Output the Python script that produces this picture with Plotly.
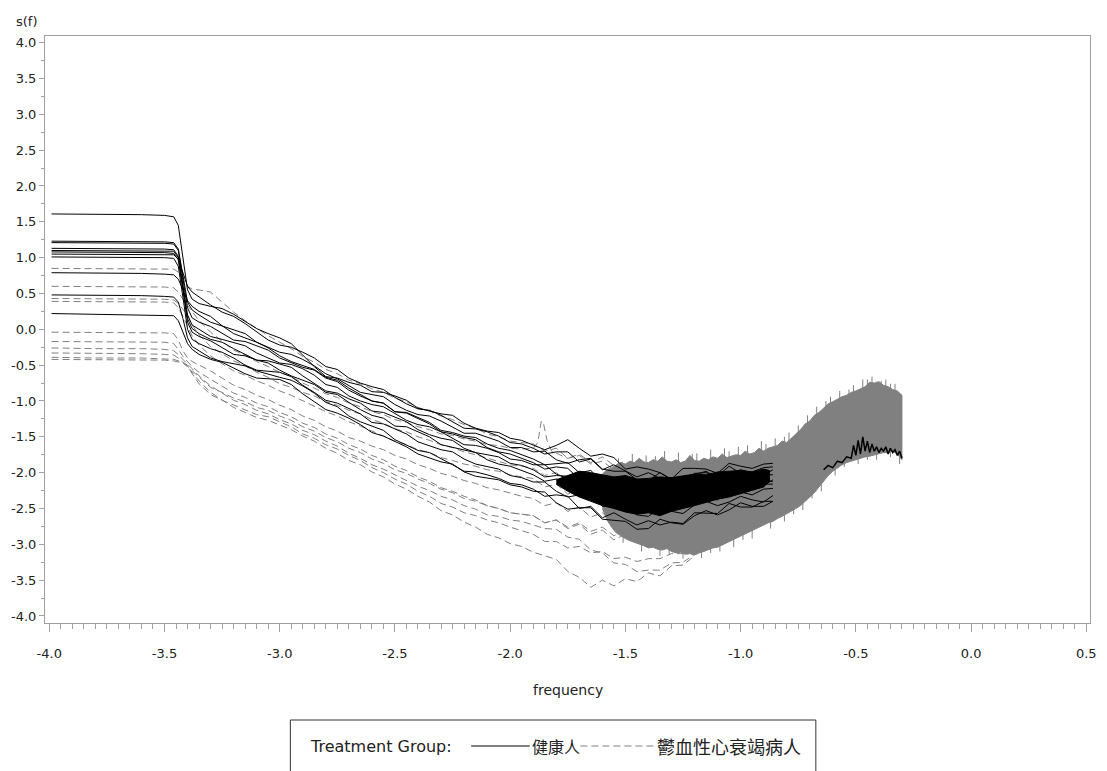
import plotly.graph_objects as go

# ---------------- data ----------------
X_GRID = [-3.99, -3.80, -3.60, -3.50, -3.46, -3.44, -3.42, -3.40, -3.38,
          -3.35, -3.30, -3.25, -3.20, -3.15, -3.10, -3.05, -3.00, -2.95, -2.90,
          -2.85, -2.80, -2.75, -2.70, -2.65, -2.60, -2.55, -2.50, -2.45, -2.40,
          -2.35, -2.30, -2.25, -2.20, -2.15, -2.10, -2.05, -2.00, -1.95, -1.90,
          -1.85, -1.80, -1.75, -1.70, -1.65, -1.60, -1.55, -1.50,
          -1.45, -1.40, -1.35, -1.30, -1.25, -1.20, -1.15, -1.10, -1.05, -1.00,
          -0.95, -0.90, -0.86]

# healthy group (solid black)
H1 = [1.61, 1.61, 1.60, 1.59, 1.57, 1.45, 1.00, 0.55, 0.42,
      0.36, 0.32, 0.29, 0.21, 0.11, 0.01, -0.06, -0.12, -0.20, -0.36, -0.52, -0.66, -0.68, -0.74, -0.78,
      -0.87, -0.88, -0.93, -0.99, -1.10, -1.14, -1.18, -1.20, -1.31, -1.38, -1.42, -1.44, -1.52, -1.55,
      -1.61, -1.68, -1.62, -1.54, -1.66, -1.77, -1.74, -1.79, -1.95, -1.92, -1.95, -2.00, -2.09, -1.94,
      -1.94, -1.95, -2.01, -1.87, -1.91, -1.94, -1.88, -1.87]
H2 = [1.23, 1.23, 1.22, 1.22, 1.21, 1.12, 0.75, 0.38, 0.27,
      0.20, 0.10, 0.05, -0.01, -0.06, -0.18, -0.25, -0.32, -0.35, -0.42, -0.51, -0.62, -0.69, -0.79, -0.88,
      -0.91, -0.94, -1.05, -1.13, -1.19, -1.21, -1.28, -1.36, -1.45, -1.45, -1.50, -1.56, -1.65, -1.65,
      -1.71, -1.70, -1.82, -1.87, -1.82, -1.80, -1.95, -1.98, -1.98, -2.10, -2.11, -2.00, -2.10, -2.12,
      -2.03, -1.98, -2.08, -2.02, -1.96, -2.00, -2.04, -1.96]
H3 = [1.21, 1.21, 1.20, 1.20, 1.19, 1.10, 0.70, 0.30, 0.16,
      0.10, 0.04, -0.05, -0.15, -0.17, -0.23, -0.29, -0.40, -0.47, -0.53, -0.57, -0.68, -0.73, -0.85, -0.93,
      -1.00, -1.03, -1.15, -1.16, -1.23, -1.30, -1.41, -1.44, -1.49, -1.51, -1.60, -1.66, -1.69, -1.75,
      -1.81, -1.89, -1.87, -1.86, -2.00, -1.97, -2.13, -2.06, -2.15, -2.22, -2.15, -2.22, -2.16, -2.21,
      -2.08, -2.11, -2.15, -2.01, -2.09, -2.10, -2.03, -2.03]
H4 = [1.13, 1.13, 1.12, 1.12, 1.11, 1.02, 0.62, 0.20, 0.06,
      0.00, -0.10, -0.14, -0.19, -0.23, -0.33, -0.40, -0.47, -0.49, -0.55, -0.64, -0.77, -0.81, -0.93, -1.00,
      -1.05, -1.08, -1.18, -1.27, -1.33, -1.36, -1.43, -1.52, -1.61, -1.62, -1.66, -1.72, -1.81, -1.83,
      -1.89, -1.89, -2.02, -2.08, -2.04, -2.04, -2.20, -2.21, -2.21, -2.32, -2.33, -2.21, -2.28, -2.30,
      -2.20, -2.15, -2.23, -2.18, -2.10, -2.15, -2.18, -2.10]
H5 = [1.10, 1.10, 1.10, 1.09, 1.09, 1.00, 0.58, 0.15, 0.01,
      -0.06, -0.14, -0.18, -0.27, -0.35, -0.43, -0.44, -0.48, -0.53, -0.65, -0.75, -0.86, -0.89, -0.97, -1.03,
      -1.14, -1.16, -1.22, -1.29, -1.40, -1.47, -1.52, -1.55, -1.66, -1.72, -1.75, -1.78, -1.87, -1.90,
      -1.96, -2.06, -2.04, -2.05, -2.20, -2.17, -2.33, -2.26, -2.35, -2.42, -2.35, -2.41, -2.36, -2.39,
      -2.26, -2.27, -2.30, -2.16, -2.23, -2.23, -2.16, -2.16]
H6 = [1.08, 1.08, 1.07, 1.07, 1.06, 0.97, 0.55, 0.10, -0.04,
      -0.10, -0.16, -0.25, -0.35, -0.37, -0.43, -0.47, -0.57, -0.65, -0.71, -0.77, -0.88, -0.91, -1.02, -1.12,
      -1.20, -1.24, -1.35, -1.36, -1.43, -1.50, -1.61, -1.65, -1.69, -1.72, -1.82, -1.88, -1.91, -1.97,
      -2.03, -2.12, -2.09, -2.11, -2.26, -2.34, -2.31, -2.32, -2.47, -2.41, -2.43, -2.48, -2.51, -2.38,
      -2.33, -2.36, -2.38, -2.25, -2.27, -2.31, -2.23, -2.22]
H7 = [1.05, 1.05, 1.05, 1.04, 1.04, 0.98, 0.80, 0.60, 0.52,
      0.45, 0.34, 0.24, 0.18, 0.08, -0.04, -0.15, -0.22, -0.25, -0.32, -0.40, -0.52, -0.56, -0.68, -0.75,
      -0.80, -0.84, -0.95, -1.04, -1.11, -1.13, -1.20, -1.29, -1.38, -1.39, -1.43, -1.49, -1.58, -1.60,
      -1.66, -1.74, -1.71, -1.71, -1.85, -1.81, -1.96, -1.89, -1.98, -2.06, -2.00, -2.08, -2.07, -2.10,
      -2.01, -2.00, -2.05, -1.91, -2.01, -1.99, -1.93, -1.92]
H8 = [1.01, 1.01, 1.00, 1.00, 0.99, 0.88, 0.45, 0.00, -0.14,
      -0.20, -0.27, -0.32, -0.40, -0.50, -0.57, -0.58, -0.60, -0.66, -0.78, -0.88, -0.99, -1.03, -1.11, -1.18,
      -1.30, -1.32, -1.39, -1.46, -1.57, -1.63, -1.68, -1.71, -1.81, -1.88, -1.92, -1.95, -2.04, -2.07,
      -2.13, -2.13, -2.26, -2.34, -2.31, -2.31, -2.47, -2.48, -2.48, -2.59, -2.61, -2.49, -2.54, -2.57,
      -2.45, -2.40, -2.46, -2.41, -2.33, -2.38, -2.41, -2.32]
H9 = [0.79, 0.79, 0.78, 0.77, 0.76, 0.70, 0.55, 0.40, 0.32,
      0.25, 0.18, 0.05, -0.06, -0.12, -0.18, -0.26, -0.37, -0.45, -0.51, -0.56, -0.67, -0.71, -0.82, -0.91,
      -1.00, -1.03, -1.15, -1.17, -1.25, -1.32, -1.43, -1.46, -1.51, -1.54, -1.65, -1.71, -1.74, -1.80,
      -1.86, -1.95, -1.92, -1.94, -2.09, -2.18, -2.17, -2.19, -2.35, -2.30, -2.33, -2.38, -2.41, -2.27,
      -2.23, -2.26, -2.27, -2.15, -2.16, -2.21, -2.12, -2.12]
H10 = [0.48, 0.48, 0.47, 0.46, 0.45, 0.38, 0.15, -0.12, -0.24,
       -0.30, -0.40, -0.45, -0.48, -0.51, -0.58, -0.63, -0.67, -0.71, -0.79, -0.89, -1.02, -1.08, -1.21, -1.29,
       -1.35, -1.41, -1.54, -1.62, -1.69, -1.72, -1.80, -1.89, -1.98, -1.99, -2.03, -2.08, -2.15, -2.17,
       -2.23, -2.33, -2.31, -2.33, -2.50, -2.47, -2.63, -2.56, -2.65, -2.73, -2.67, -2.73, -2.69, -2.71,
       -2.56, -2.56, -2.57, -2.43, -2.48, -2.48, -2.40, -2.40]
H11 = [0.22, 0.21, 0.20, 0.19, 0.19, 0.12, -0.05, -0.20, -0.28,
       -0.35, -0.42, -0.46, -0.54, -0.62, -0.68, -0.69, -0.70, -0.77, -0.90, -1.01, -1.12, -1.17, -1.24, -1.33,
       -1.44, -1.49, -1.57, -1.64, -1.74, -1.80, -1.85, -1.88, -1.99, -2.05, -2.08, -2.10, -2.17, -2.20,
       -2.26, -2.27, -2.42, -2.51, -2.49, -2.49, -2.65, -2.67, -2.68, -2.79, -2.78, -2.65, -2.70, -2.72,
       -2.60, -2.53, -2.59, -2.52, -2.42, -2.47, -2.47, -2.40]
# visible end part of one healthy curve near the Nyquist end
HT_X = [-0.64, -0.62, -0.60, -0.58, -0.56, -0.54, -0.52, -0.51, -0.50, -0.49, -0.48, -0.47, -0.46, -0.45,
        -0.44, -0.43, -0.42, -0.41, -0.40, -0.39, -0.38, -0.37, -0.36, -0.35, -0.34, -0.33, -0.32, -0.31, -0.30]
HT_Y = [-1.96, -1.90, -1.93, -1.84, -1.86, -1.78, -1.80, -1.62, -1.76, -1.55, -1.74, -1.50, -1.70, -1.56,
        -1.72, -1.60, -1.70, -1.64, -1.72, -1.66, -1.70, -1.64, -1.74, -1.66, -1.72, -1.68, -1.76, -1.70, -1.80]

# CHF group (dashed grey)
C1 = [0.85, 0.85, 0.85, 0.84, 0.84, 0.80, 0.70, 0.60, 0.56,
      0.55, 0.52, 0.38, 0.24, 0.12, 0.01, -0.09, -0.18, -0.27, -0.38, -0.46, -0.56, -0.62, -0.71, -0.76,
      -0.83, -0.88, -0.96, -1.01, -1.09, -1.14, -1.21, -1.26, -1.33, -1.38, -1.46, -1.50, -1.56, -1.58,
      -1.60, -1.70, -1.66, -1.80, -1.74, -1.86, -1.78, -1.90, -1.84]
C2_X = [-3.99, -3.80, -3.60, -3.50, -3.46, -3.44, -3.42, -3.40, -3.38,
        -3.35, -3.30, -3.25, -3.20, -3.15, -3.10, -3.05, -3.00, -2.95, -2.90,
        -2.85, -2.80, -2.75, -2.70, -2.65, -2.60, -2.55, -2.50, -2.45, -2.40,
        -2.35, -2.30, -2.25, -2.20, -2.15, -2.10, -2.05, -2.00, -1.95,
        -1.90, -1.88, -1.865, -1.855, -1.84, -1.82, -1.80, -1.75, -1.70, -1.65, -1.60, -1.55, -1.50]
C2 = [0.60, 0.60, 0.59, 0.59, 0.58, 0.52, 0.42, 0.33, 0.24,
      0.12, -0.04, -0.16, -0.29, -0.36, -0.45, -0.52, -0.60, -0.66, -0.75, -0.82, -0.90, -0.95, -1.03, -1.08,
      -1.15, -1.19, -1.26, -1.30, -1.36, -1.40, -1.46, -1.48, -1.53, -1.56, -1.61, -1.62, -1.66, -1.67,
      -1.66, -1.58, -1.28, -1.32, -1.55, -1.70, -1.73, -1.80, -1.76, -1.88, -1.84, -1.96, -1.90]
C3 = [0.43, 0.43, 0.42, 0.42, 0.41, 0.36, 0.28, 0.20, 0.06,
      -0.08, -0.24, -0.34, -0.44, -0.51, -0.60, -0.67, -0.76, -0.81, -0.88, -0.93, -1.01, -1.06, -1.13, -1.18,
      -1.26, -1.31, -1.39, -1.43, -1.50, -1.55, -1.61, -1.65, -1.71, -1.75, -1.80, -1.84, -1.89, -1.91,
      -1.94, -2.04, -2.00, -2.12, -2.06, -2.20, -2.14, -2.30, -2.22]
C4 = [0.39, 0.39, 0.38, 0.38, 0.37, 0.30, 0.18, 0.05, -0.09,
      -0.22, -0.37, -0.48, -0.58, -0.64, -0.72, -0.78, -0.86, -0.92, -1.00, -1.07, -1.15, -1.21, -1.29, -1.35,
      -1.42, -1.48, -1.56, -1.61, -1.68, -1.72, -1.79, -1.83, -1.88, -1.91, -1.96, -1.98, -2.03, -2.06,
      -2.08, -2.20, -2.16, -2.30, -2.24, -2.40, -2.32, -2.50, -2.42]
C5 = [-0.04, -0.04, -0.05, -0.05, -0.06, -0.15, -0.30, -0.40, -0.45,
      -0.50, -0.58, -0.68, -0.78, -0.84, -0.92, -0.98, -1.06, -1.12, -1.21, -1.27, -1.36, -1.42, -1.51, -1.56,
      -1.63, -1.68, -1.76, -1.81, -1.89, -1.94, -2.01, -2.05, -2.11, -2.15, -2.21, -2.24, -2.29, -2.33,
      -2.36, -2.46, -2.42, -2.54, -2.48, -2.62, -2.56, -2.70, -2.62]
C6 = [-0.17, -0.17, -0.18, -0.18, -0.20, -0.28, -0.38, -0.45, -0.52,
      -0.60, -0.70, -0.80, -0.89, -0.95, -1.03, -1.08, -1.16, -1.22, -1.31, -1.37, -1.46, -1.52, -1.61, -1.67,
      -1.76, -1.82, -1.91, -1.97, -2.06, -2.12, -2.21, -2.26, -2.33, -2.38, -2.46, -2.50, -2.56, -2.58,
      -2.60, -2.70, -2.66, -2.78, -2.72, -2.86, -2.80, -2.94, -2.86, -2.98, -2.92]
C7 = [-0.26, -0.27, -0.27, -0.28, -0.30, -0.35, -0.42, -0.48, -0.55,
      -0.65, -0.79, -0.89, -0.99, -1.05, -1.13, -1.18, -1.26, -1.32, -1.41, -1.47, -1.56, -1.63, -1.73, -1.80,
      -1.89, -1.95, -2.03, -2.10, -2.19, -2.25, -2.33, -2.38, -2.46, -2.51, -2.59, -2.61, -2.66, -2.68,
      -2.73, -2.78, -2.79, -2.90, -2.93, -3.08, -3.12, -3.26, -3.28,
      -3.38, -3.36, -3.36, -3.26, -3.25, -3.14]
C8 = [-0.33, -0.33, -0.34, -0.35, -0.36, -0.40, -0.46, -0.52, -0.60,
      -0.72, -0.88, -0.99, -1.09, -1.16, -1.23, -1.27, -1.33, -1.40, -1.49, -1.56, -1.66, -1.73, -1.83, -1.89,
      -1.99, -2.06, -2.16, -2.23, -2.33, -2.41, -2.53, -2.59, -2.69, -2.76, -2.86, -2.91, -2.99, -3.03,
      -3.11, -3.16, -3.21, -3.38, -3.46, -3.60, -3.50, -3.58, -3.48,
      -3.52, -3.40, -3.44, -3.30, -3.29, -3.16]
C9 = [-0.39, -0.40, -0.40, -0.41, -0.42, -0.44, -0.46, -0.50, -0.62,
      -0.76, -0.91, -0.99, -1.06, -1.12, -1.19, -1.22, -1.29, -1.36, -1.46, -1.52, -1.61, -1.67, -1.76, -1.83,
      -1.93, -2.00, -2.09, -2.16, -2.26, -2.33, -2.43, -2.48, -2.56, -2.60, -2.66, -2.70, -2.76, -2.81,
      -2.86, -2.96, -2.96, -3.05, -3.03, -3.12, -3.10, -3.20, -3.18,
      -3.24, -3.20, -3.20, -3.13, -3.13, -3.04]
C10 = [-0.42, -0.42, -0.42, -0.43, -0.44, -0.45, -0.47, -0.52, -0.58,
       -0.67, -0.81, -0.88, -0.96, -1.01, -1.09, -1.13, -1.21, -1.27, -1.36, -1.42, -1.51, -1.57, -1.66, -1.72,
       -1.81, -1.87, -1.96, -2.01, -2.09, -2.15, -2.23, -2.28, -2.36, -2.40, -2.46, -2.50, -2.56, -2.58,
       -2.60, -2.70, -2.66, -2.76, -2.70, -2.82, -2.76, -2.88, -2.80]

# dense high-frequency region of the CHF group (envelope of the grey band)
BAND_X = [-1.60, -1.58, -1.56, -1.54, -1.52, -1.50, -1.48, -1.46, -1.44, -1.42, -1.40, -1.38, -1.36,
          -1.34, -1.32, -1.30, -1.28, -1.26, -1.24, -1.22, -1.20, -1.18, -1.16, -1.14, -1.12, -1.10,
          -1.08, -1.06, -1.04, -1.02, -1.00, -0.98, -0.96, -0.94, -0.92, -0.90, -0.88, -0.86, -0.84,
          -0.82, -0.80, -0.78, -0.76, -0.74, -0.72, -0.70, -0.68, -0.66, -0.64, -0.62, -0.60, -0.58,
          -0.56, -0.54, -0.52, -0.50, -0.48, -0.46, -0.44, -0.42, -0.40, -0.38, -0.36, -0.34, -0.32, -0.30]
BAND_UP = [-2.02, -1.96, -1.93, -1.90, -1.86, -1.88, -1.84, -1.86, -1.80, -1.85, -1.86, -1.82, -1.84,
           -1.78, -1.84, -1.85, -1.82, -1.86, -1.84, -1.76, -1.83, -1.84, -1.80, -1.82, -1.78, -1.80,
           -1.74, -1.79, -1.77, -1.75, -1.76, -1.70, -1.74, -1.72, -1.66, -1.70, -1.66, -1.64, -1.62,
           -1.56, -1.58, -1.52, -1.46, -1.40, -1.32, -1.28, -1.20, -1.16, -1.10, -1.04, -1.01, -0.97,
           -0.94, -0.92, -0.88, -0.86, -0.83, -0.80, -0.74, -0.75, -0.73, -0.78, -0.80, -0.84, -0.86, -0.92]
BAND_LO = [-2.50, -2.66, -2.76, -2.84, -2.88, -2.92, -2.95, -2.98, -3.00, -3.02, -3.05, -3.04, -3.07,
           -3.08, -3.06, -3.10, -3.12, -3.11, -3.14, -3.13, -3.15, -3.12, -3.10, -3.08, -3.05, -3.04,
           -3.00, -2.98, -2.95, -2.92, -2.88, -2.86, -2.82, -2.80, -2.76, -2.73, -2.70, -2.68, -2.64,
           -2.61, -2.58, -2.54, -2.50, -2.46, -2.40, -2.34, -2.28, -2.20, -2.12, -2.04, -1.98, -1.93,
           -1.89, -1.86, -1.84, -1.81, -1.80, -1.78, -1.77, -1.75, -1.74, -1.72, -1.72, -1.70, -1.74, -1.82]
# single strokes sticking out of the grey band (x, value inside the band, tip value)
NEEDLE_X = [-1.53, -1.47, -1.41, -1.37, -1.33, -1.27, -1.21, -1.19, -1.13, -1.07, -1.05, -1.01, -0.97,
            -0.91, -0.89, -0.85, -0.81, -0.79, -0.75, -0.71, -0.67, -0.63, -0.61, -0.57, -0.53, -0.51,
            -0.47, -0.45, -0.43, -0.39, -0.37, -0.35, -0.33,
            -1.51, -1.43, -1.35, -1.31, -1.25, -1.17, -1.13, -1.09, -1.03, -0.99, -0.95, -0.87, -0.81,
            -0.77, -0.73, -0.69, -0.65, -0.59, -0.55, -0.49, -0.45, -0.41, -0.35, -0.31]
NEEDLE_BASE = [-1.92, -1.91, -1.91, -1.88, -1.86, -1.90, -1.84, -1.89, -1.86, -1.82, -1.82, -1.81, -1.78,
               -1.74, -1.72, -1.69, -1.64, -1.61, -1.49, -1.36, -1.24, -1.12, -1.09, -1.02, -0.96, -0.93,
               -0.88, -0.84, -0.80, -0.82, -0.85, -0.86, -0.91,
               -2.86, -2.95, -3.01, -3.04, -3.06, -3.05, -3.02, -2.96, -2.88, -2.82, -2.75, -2.63, -2.54,
               -2.46, -2.37, -2.28, -2.10, -1.89, -1.82, -1.74, -1.72, -1.68, -1.66, -1.72]
NEEDLE_TIP = [-1.80, -1.74, -1.76, -1.77, -1.70, -1.72, -1.74, -1.73, -1.68, -1.66, -1.70, -1.64, -1.62,
              -1.56, -1.60, -1.52, -1.50, -1.44, -1.34, -1.20, -1.08, -1.00, -0.94, -0.86, -0.84, -0.78,
              -0.70, -0.70, -0.66, -0.72, -0.70, -0.76, -0.76,
              -2.98, -3.10, -3.16, -3.14, -3.20, -3.19, -3.12, -3.10, -3.04, -2.94, -2.92, -2.78, -2.68,
              -2.58, -2.52, -2.36, -2.26, -2.04, -1.92, -1.88, -1.82, -1.82, -1.78, -1.88]

# dense core of the healthy group
CORE_X = [-1.80, -1.75, -1.70, -1.65, -1.60, -1.55, -1.50, -1.45, -1.40, -1.35, -1.30, -1.25, -1.20,
          -1.15, -1.10, -1.05, -1.00, -0.95, -0.90, -0.875]
CORE_UP = [-2.10, -2.04, -1.98, -2.00, -2.03, -2.06, -2.04, -2.09, -2.08, -2.06, -2.07, -2.04, -2.02,
           -2.03, -1.99, -1.98, -1.97, -1.99, -1.95, -1.97]
CORE_LO = [-2.16, -2.26, -2.34, -2.40, -2.46, -2.50, -2.55, -2.58, -2.56, -2.60, -2.54, -2.50, -2.46,
           -2.42, -2.37, -2.34, -2.29, -2.25, -2.20, -2.12]

HEALTHY = [H1, H2, H3, H4, H5, H6, H7, H8, H9, H10, H11]
CHF = [C1, C3, C4, C5, C6, C7, C8, C9, C10]

X_TICKS = [-4.0, -3.5, -3.0, -2.5, -2.0, -1.5, -1.0, -0.5, 0.0, 0.5]
X_TICKTEXT = ["-4.0", "-3.5", "-3.0", "-2.5", "-2.0", "-1.5", "-1.0", "-0.5", "0.0", "0.5"]
Y_TICKS = [-4.0, -3.5, -3.0, -2.5, -2.0, -1.5, -1.0, -0.5, 0.0, 0.5, 1.0, 1.5, 2.0, 2.5, 3.0, 3.5, 4.0]
Y_TICKTEXT = ["-4.0", "-3.5", "-3.0", "-2.5", "-2.0", "-1.5", "-1.0", "-0.5", "0.0", "0.5",
              "1.0", "1.5", "2.0", "2.5", "3.0", "3.5", "4.0"]

GROUP_LABEL = "Treatment Group:"
GROUP_NAMES = ["健康人", "鬱血性心衰竭病人"]

# ---------------- styling ----------------
BLACK = "#000000"
GREY = "#808080"
AXIS = "#a0a0a0"
TXT = "#222222"
DASH = "7px,4px"

W, H = 1107, 771
ML, MR, MT, MB = 45, 10, 36, 148
PW, PH = W - ML - MR, H - MT - MB


def xp(px):
    return (px - ML) / PW


def yp(py):
    return (H - MB - py) / PH


fig = go.Figure()

for y in CHF:
    fig.add_trace(go.Scatter(x=X_GRID[:len(y)], y=y, mode="lines",
                             line=dict(color=GREY, width=1, dash=DASH), hoverinfo="skip"))
fig.add_trace(go.Scatter(x=C2_X, y=C2, mode="lines",
                         line=dict(color=GREY, width=1, dash=DASH), hoverinfo="skip"))

fig.add_trace(go.Scatter(x=BAND_X + BAND_X[::-1], y=BAND_UP + BAND_LO[::-1], mode="lines",
                         fill="toself", fillcolor=GREY, line=dict(color=GREY, width=1),
                         hoverinfo="skip"))

nx, ny = [], []
for xv, b, t in zip(NEEDLE_X, NEEDLE_BASE, NEEDLE_TIP):
    nx += [xv, xv, None]
    ny += [b, t, None]
fig.add_trace(go.Scatter(x=nx, y=ny, mode="lines", line=dict(color=GREY, width=1),
                         hoverinfo="skip"))

fig.add_trace(go.Scatter(x=CORE_X + CORE_X[::-1], y=CORE_UP + CORE_LO[::-1], mode="lines",
                         fill="toself", fillcolor=BLACK, line=dict(color=BLACK, width=1),
                         hoverinfo="skip"))

for y in HEALTHY:
    fig.add_trace(go.Scatter(x=X_GRID[:len(y)], y=y, mode="lines",
                             line=dict(color=BLACK, width=1), hoverinfo="skip"))
fig.add_trace(go.Scatter(x=HT_X, y=HT_Y, mode="lines",
                         line=dict(color=BLACK, width=1.5), hoverinfo="skip"))

axis_common = dict(showgrid=False, zeroline=False, showline=True, linecolor=AXIS, linewidth=1,
                   mirror=True, ticks="outside", tickcolor=AXIS, tickwidth=1,
                   tickfont=dict(family="DejaVu Sans", size=13, color=TXT))

fig.update_xaxes(range=[-4.0185, 0.516], tickvals=X_TICKS, ticktext=X_TICKTEXT, ticklen=8,
                 minor=dict(dtick=0.05, tick0=-4.0, ticks="outside", ticklen=5, tickcolor=AXIS),
                 ticklabelstandoff=10, **axis_common)
fig.update_yaxes(range=[-4.098, 4.093], tickvals=Y_TICKS, ticktext=Y_TICKTEXT, ticklen=5,
                 minor=dict(dtick=0.25, tick0=-4.0, ticks="outside", ticklen=3, tickcolor=AXIS),
                 **axis_common)

annotations = [
    dict(text="s(f)", x=xp(14), y=yp(21), xref="paper", yref="paper", xanchor="left",
         yanchor="middle", showarrow=False, font=dict(family="DejaVu Sans", size=13, color=TXT)),
    dict(text="frequency", x=xp(571), y=yp(690), xref="paper", yref="paper", xanchor="center",
         yanchor="middle", showarrow=False, font=dict(family="DejaVu Sans", size=14, color=TXT)),
    dict(text=GROUP_LABEL, x=xp(310), y=yp(746), xref="paper", yref="paper", xanchor="left",
         yanchor="middle", showarrow=False, font=dict(family="DejaVu Sans", size=16, color=TXT)),
    dict(text=GROUP_NAMES[0], x=xp(533), y=yp(746), xref="paper", yref="paper", xanchor="left",
         yanchor="middle", showarrow=False, font=dict(family="Noto Sans CJK TC", size=16, color=TXT)),
    dict(text=GROUP_NAMES[1], x=xp(659), y=yp(746), xref="paper", yref="paper", xanchor="left",
         yanchor="middle", showarrow=False, font=dict(family="Noto Sans CJK TC", size=18, color=TXT)),
]

shapes = [
    dict(type="rect", xref="paper", yref="paper", x0=xp(292), x1=xp(821), y0=yp(800), y1=yp(720),
         line=dict(color="#333333", width=1), fillcolor="rgba(0,0,0,0)", layer="above"),
    dict(type="line", xref="paper", yref="paper", x0=xp(474), x1=xp(533), y0=yp(746), y1=yp(746),
         line=dict(color=BLACK, width=1)),
    dict(type="line", xref="paper", yref="paper", x0=xp(584), x1=xp(658), y0=yp(746), y1=yp(746),
         line=dict(color=GREY, width=1, dash=DASH)),
]

fig.update_layout(width=W, height=H, margin=dict(l=ML, r=MR, t=MT, b=MB),
                  paper_bgcolor="white", plot_bgcolor="white", showlegend=False,
                  annotations=annotations, shapes=shapes)

fig.write_html("out.html")
